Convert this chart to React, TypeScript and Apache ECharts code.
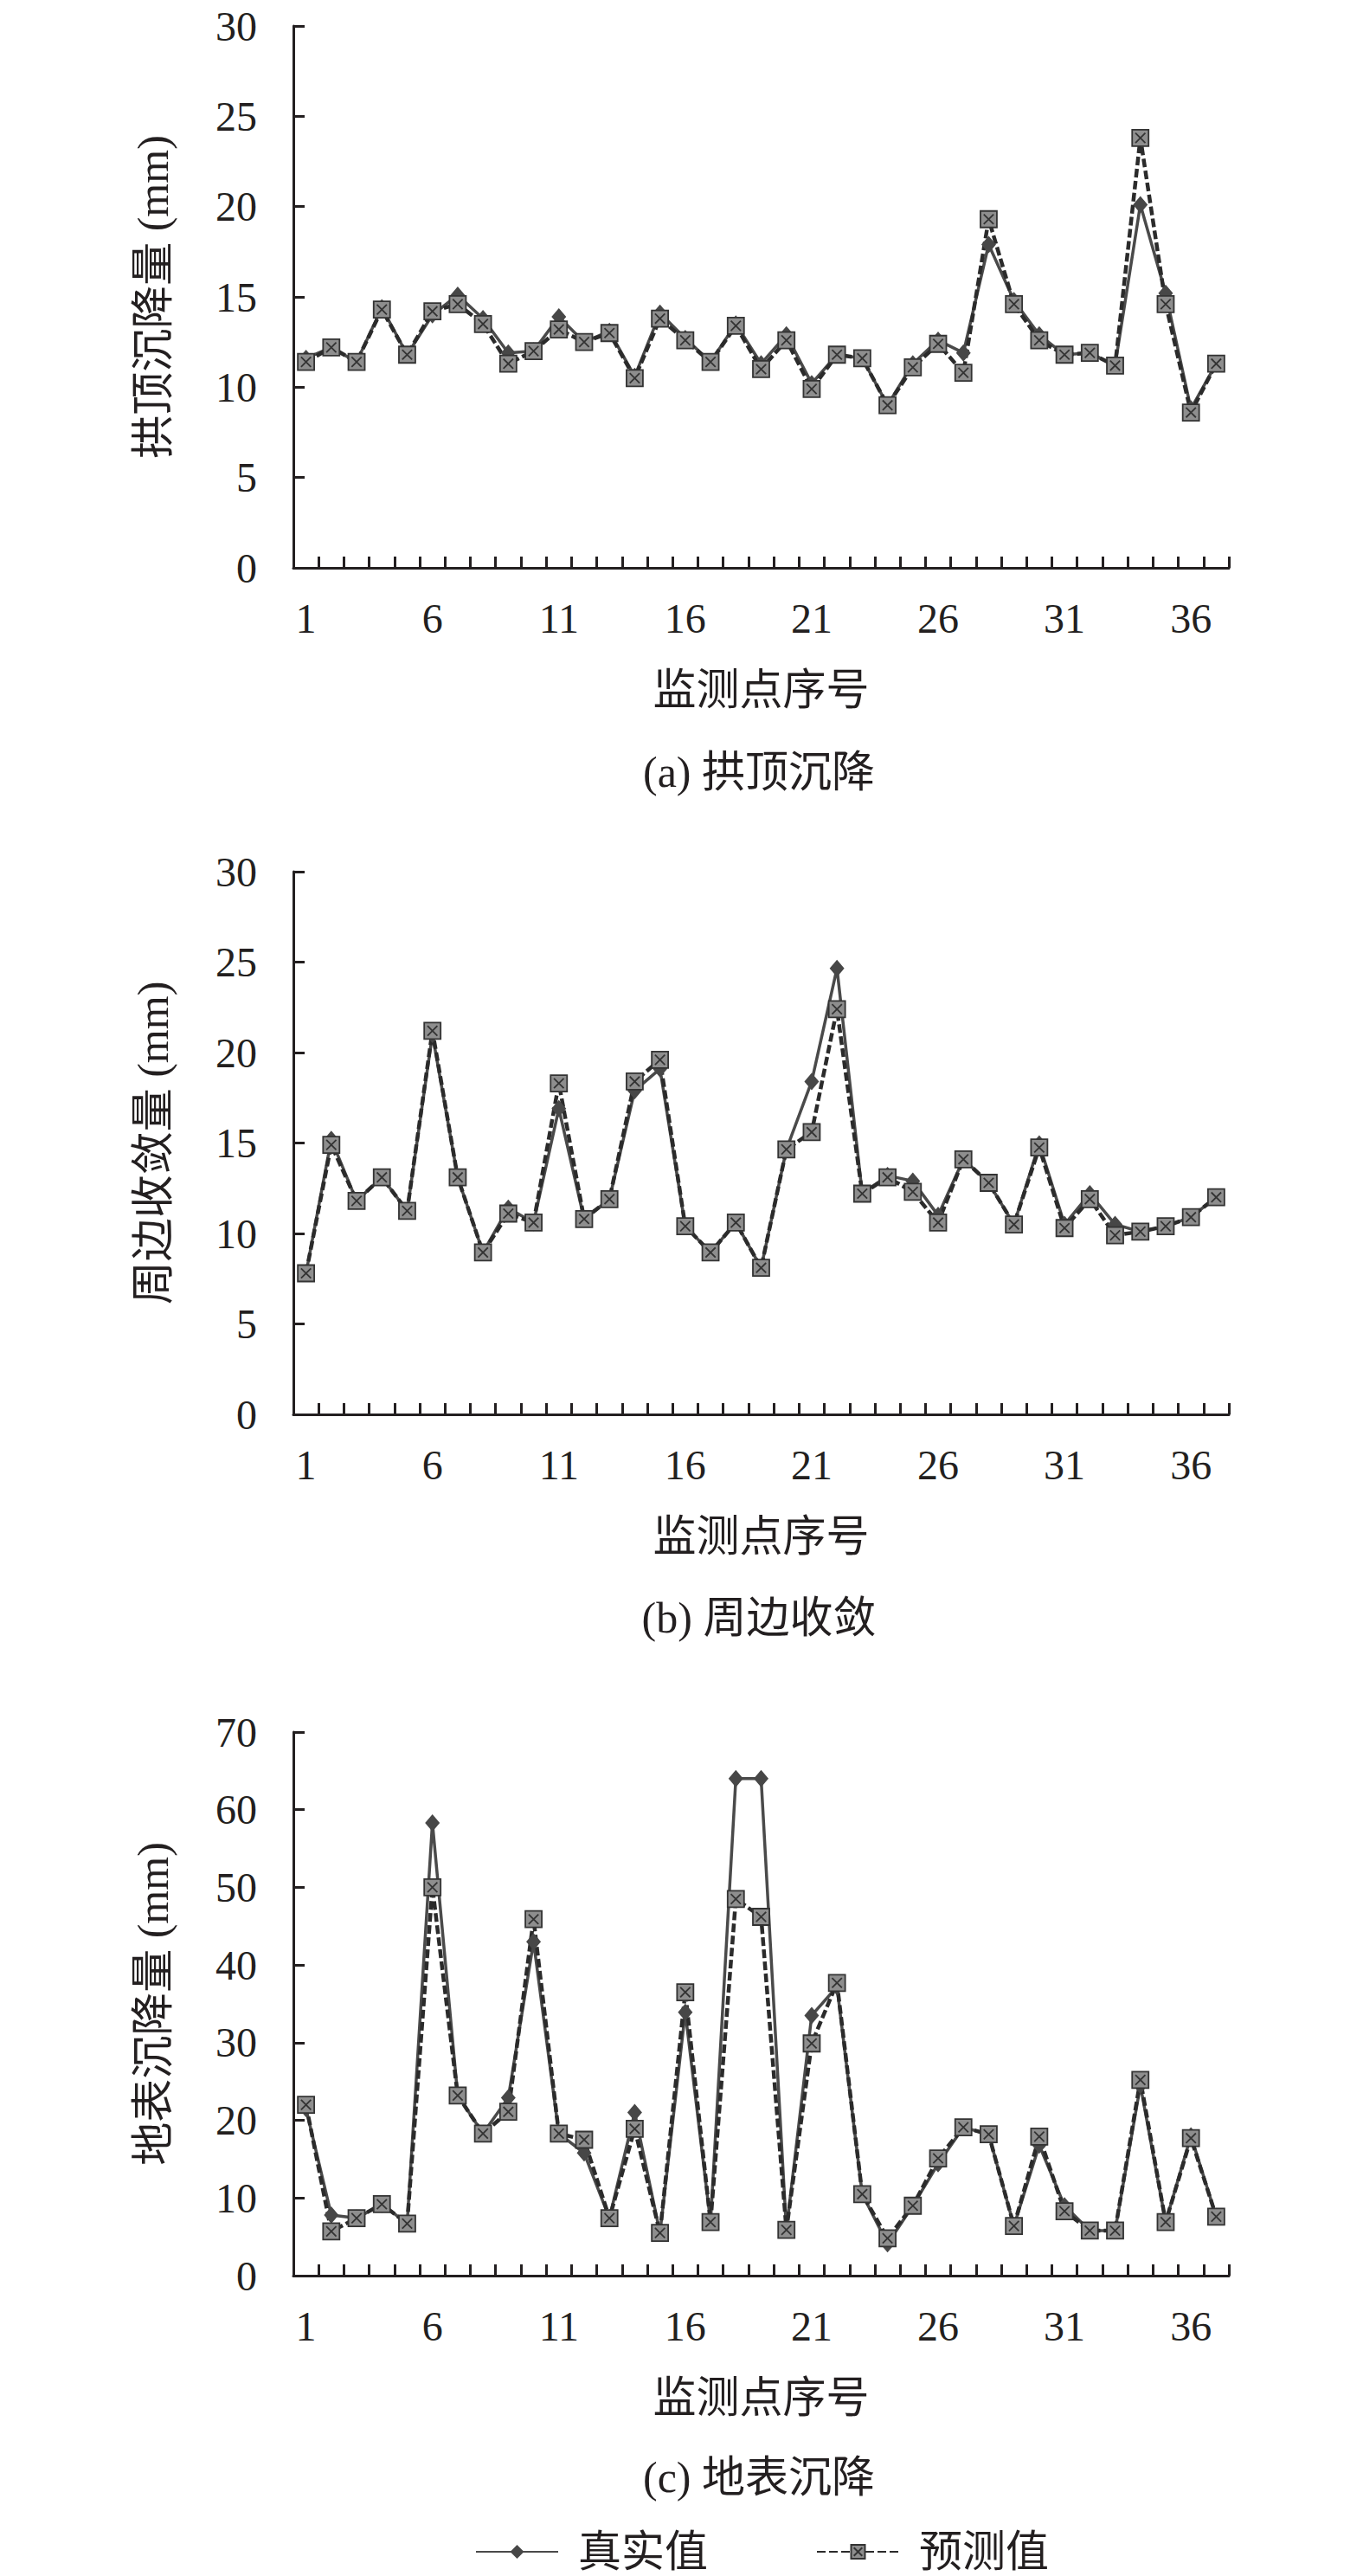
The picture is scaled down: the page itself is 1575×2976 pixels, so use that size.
import React, { useEffect, useRef } from 'react'
import * as echarts from 'echarts'

// 监测点序号 1..37
const points = Array.from({ length: 37 }, (_, i) => String(i + 1))

// (a) 拱顶沉降 (mm)
const crownReal = [
  11.6, 12.2, 11.4, 14.4, 11.8, 14.0, 15.1, 13.8, 11.9, 12.0, 13.9, 12.5, 13.1, 10.6, 14.1, 12.7, 11.4, 13.5, 11.3,
  12.9, 10.2, 11.8, 11.6, 9.0, 11.3, 12.6, 11.9, 17.9, 14.8, 12.9, 11.8, 11.9, 11.2, 20.1, 15.2, 8.8, 11.3
]
const crownPred = [
  11.4, 12.2, 11.4, 14.3, 11.8, 14.2, 14.6, 13.5, 11.3, 12.0, 13.2, 12.5, 13.0, 10.5, 13.8, 12.6, 11.4, 13.4, 11.0,
  12.6, 9.9, 11.8, 11.6, 9.0, 11.1, 12.4, 10.8, 19.3, 14.6, 12.6, 11.8, 11.9, 11.2, 23.8, 14.6, 8.6, 11.3
]

// (b) 周边收敛 (mm)
const convReal = [
  7.8, 15.2, 11.8, 13.1, 11.25, 21.0, 13.1, 8.95, 11.4, 10.6, 16.9, 10.8, 11.9, 17.9, 19.1, 10.4, 8.95, 10.6, 8.1,
  14.65, 18.4, 24.65, 12.2, 13.2, 12.9, 11.0, 14.1, 12.8, 10.5, 14.95, 10.5, 12.2, 10.5, 10.1, 10.4, 10.9, 12.0
]
const convPred = [
  7.8, 14.9, 11.8, 13.1, 11.25, 21.2, 13.1, 8.95, 11.1, 10.6, 18.3, 10.8, 11.9, 18.4, 19.6, 10.4, 8.95, 10.6, 8.1,
  14.65, 15.6, 22.4, 12.2, 13.1, 12.3, 10.6, 14.1, 12.8, 10.5, 14.75, 10.3, 11.9, 9.9, 10.1, 10.4, 10.9, 12.0
]

// (c) 地表沉降 (mm)
const surfReal = [
  21.5, 7.8, 7.4, 9.2, 6.7, 58.3, 23.2, 18.3, 22.9, 43.0, 18.3, 15.8, 7.4, 21.0, 5.5, 33.9, 6.9, 64.0, 64.0,
  5.9, 33.5, 37.2, 10.5, 4.1, 9.0, 14.4, 19.1, 18.2, 6.4, 16.8, 9.0, 5.8, 5.8, 24.5, 6.9, 18.0, 7.6
]
const surfPred = [
  22.0, 5.7, 7.4, 9.2, 6.7, 50.0, 23.2, 18.3, 21.1, 45.9, 18.3, 17.5, 7.4, 18.9, 5.5, 36.5, 6.9, 48.5, 46.2,
  5.9, 29.9, 37.7, 10.5, 4.8, 9.0, 15.1, 19.1, 18.2, 6.4, 17.9, 8.3, 5.8, 5.8, 25.2, 6.9, 17.7, 7.6
]

const yNames = ['拱顶沉降量 (mm)', '周边收敛量 (mm)', '地表沉降量 (mm)']
const yMax = [30, 30, 70]
const yStep = [5, 5, 10]
const captions = ['(a) 拱顶沉降', '(b) 周边收敛', '(c) 地表沉降']
const xName = '监测点序号'
const legendNames = ['真实值', '预测值']

const FONT = "'Liberation Serif', 'Times New Roman', 'Noto Sans CJK SC', serif"
const INK = '#231f20'
// 灰色方块 + 深色叉号
const predSymbol = 'path://M0 0H20V20H0Z M4 4L16 16 M16 4L4 16'

const App: React.FC = () => {
  const chartRef = useRef<HTMLDivElement>(null)

  useEffect(() => {
    if (!chartRef.current) return
    document.body.style.margin = '0'

    const chart = echarts.init(chartRef.current, undefined, { renderer: 'svg' })

    const grids = [
      { left: 339, top: 30, width: 1081, height: 626 },
      { left: 339, top: 1007, width: 1081, height: 627 },
      { left: 339, top: 2001, width: 1081, height: 628 }
    ]
    const captionY = [892, 1869, 2862]
    const realData = [crownReal, convReal, surfReal]
    const predData = [crownPred, convPred, surfPred]

    const xAxis = grids.map((_, i) => ({
      type: 'category',
      gridIndex: i,
      data: points,
      boundaryGap: true,
      axisLine: { show: true, lineStyle: { color: INK, width: 3 } },
      axisTick: { show: true, inside: true, length: 13, interval: 0, lineStyle: { color: INK, width: 3 } },
      axisLabel: { interval: 4, margin: 34, fontSize: 48, color: INK, fontFamily: FONT },
      splitLine: { show: false },
      name: xName,
      nameLocation: 'middle',
      nameGap: 116,
      nameTextStyle: { fontSize: 50, color: INK, fontFamily: FONT }
    }))

    const yAxis = grids.map((_, i) => ({
      type: 'value',
      gridIndex: i,
      min: 0,
      max: yMax[i],
      interval: yStep[i],
      axisLine: { show: true, lineStyle: { color: INK, width: 3 } },
      axisTick: { show: true, inside: true, length: 13, lineStyle: { color: INK, width: 3 } },
      axisLabel: { margin: 42, fontSize: 48, color: INK, fontFamily: FONT },
      splitLine: { show: false },
      name: yNames[i],
      nameLocation: 'middle',
      nameRotate: 90,
      nameGap: 137,
      nameTextStyle: { fontSize: 50, color: INK, fontFamily: FONT }
    }))

    const series: any[] = []
    grids.forEach((_, i) => {
      series.push({
        name: legendNames[0],
        type: 'line',
        xAxisIndex: i,
        yAxisIndex: i,
        data: realData[i],
        showAllSymbol: true,
        symbol: 'diamond',
        symbolSize: [17, 20],
        lineStyle: { color: '#4a4a4a', width: 3.5 },
        itemStyle: { color: '#474747' }
      })
      series.push({
        name: legendNames[1],
        type: 'line',
        xAxisIndex: i,
        yAxisIndex: i,
        data: predData[i],
        showAllSymbol: true,
        symbol: predSymbol,
        symbolSize: 19,
        lineStyle: { color: '#2b2b2b', width: 4.5, type: [10, 4] },
        itemStyle: { color: '#8e8e8e', borderColor: '#333333', borderWidth: 1.8 }
      })
    })

    const option = {
      animation: false,
      backgroundColor: '#ffffff',
      grid: grids,
      xAxis,
      yAxis,
      series,
      legend: {
        data: legendNames,
        left: 544,
        top: 2918,
        itemWidth: 95,
        itemHeight: 20,
        itemGap: 125,
        textStyle: { fontSize: 50, color: INK, fontFamily: FONT, padding: [0, 0, 0, 18] }
      },
      graphic: captions.map((t, i) => ({
        type: 'text',
        x: 877,
        y: captionY[i],
        style: {
          text: t,
          fontSize: 50,
          fontFamily: FONT,
          fill: INK,
          align: 'center',
          verticalAlign: 'middle'
        }
      }))
    }

    chart.setOption(option)

    return () => {
      chart.dispose()
    }
  }, [])

  return <div ref={chartRef} style={{ width: 1575, height: 2976 }} />
}

export default App
